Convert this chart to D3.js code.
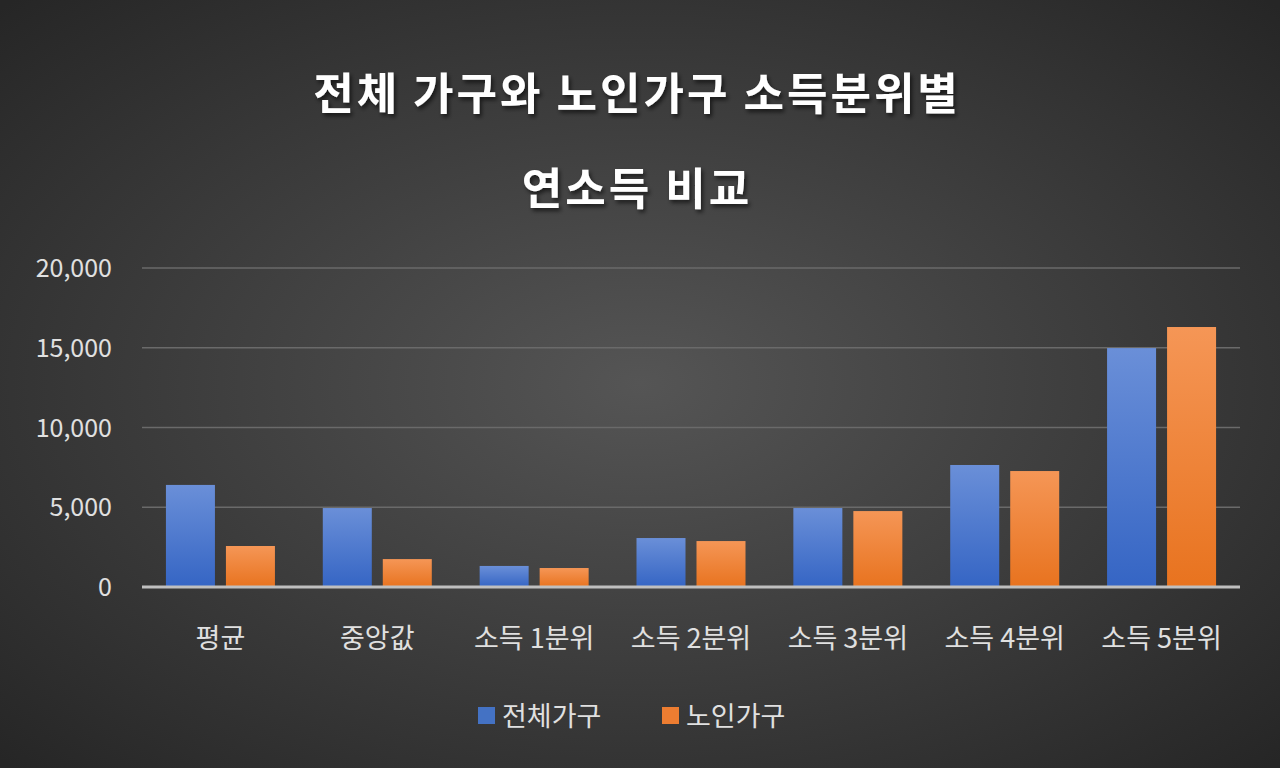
<html>
<head>
<meta charset="UTF-8" />
<script src="https://cdnjs.cloudflare.com/ajax/libs/d3/7.8.5/d3.min.js"></script>
<style>
  body { margin: 0; background: #2a2a2a; }
  svg { display: block; font-family: "Noto Sans CJK KR", "Noto Sans", sans-serif; }
</style>
</head>
<body>
<svg id="chart" width="1280" height="768"></svg>
<script>
const categories = ["평균", "중앙값", "소득 1분위", "소득 2분위", "소득 3분위", "소득 4분위", "소득 5분위"];
const allHouseholds = [6400, 4950, 1320, 3070, 4950, 7650, 14980];
const elderlyHouseholds = [2570, 1750, 1190, 2880, 4760, 7270, 16300];
const seriesNames = ["전체가구", "노인가구"];
const yTicks = [0, 5000, 10000, 15000, 20000];

const svg = d3.select("#chart");
const defs = svg.append("defs");

const bg = defs.append("radialGradient").attr("id", "bg")
  .attr("cx", "50%").attr("cy", "50%").attr("r", "70%");
bg.append("stop").attr("offset", "0%").attr("stop-color", "#555555");
bg.append("stop").attr("offset", "100%").attr("stop-color", "#262626");

function barGrad(id, topColor, bottomColor) {
  const g = defs.append("linearGradient").attr("id", id)
    .attr("x1", 0).attr("y1", 0).attr("x2", 0).attr("y2", 1);
  g.append("stop").attr("offset", "0%").attr("stop-color", topColor);
  g.append("stop").attr("offset", "100%").attr("stop-color", bottomColor);
}
barGrad("blue", "#6a8fd8", "#3565c4");
barGrad("orange", "#f59656", "#e8731f");
const fills = ["url(#blue)", "url(#orange)"];
const legendFills = ["#4472c4", "#ed7d31"];

const shadow = defs.append("filter").attr("id", "shadow");
shadow.append("feDropShadow").attr("dx", 2).attr("dy", 3).attr("stdDeviation", 2)
  .attr("flood-color", "#000").attr("flood-opacity", 0.6);

svg.append("rect").attr("width", 1280).attr("height", 768).attr("fill", "url(#bg)");

// title
const title = svg.append("g").attr("filter", "url(#shadow)")
  .attr("fill", "#fff").attr("font-weight", "bold").attr("font-size", 44)
  .attr("text-anchor", "middle").attr("letter-spacing", 3);
title.append("text").attr("x", 637).attr("y", 110).text("전체 가구와 노인가구 소득분위별");
title.append("text").attr("x", 637).attr("y", 205).text("연소득 비교");

const plotL = 142, plotR = 1240, plotT = 268, plotB = 587;
const x = d3.scaleBand().domain(categories).range([plotL, plotR]);
const y = d3.scaleLinear().domain([0, 20000]).range([plotB, plotT]);

svg.append("g").selectAll("line").data(yTicks.slice(1)).join("line")
  .attr("x1", plotL).attr("x2", plotR)
  .attr("y1", d => y(d)).attr("y2", d => y(d))
  .attr("stroke", "#6a6a6a").attr("stroke-width", 1.5);

svg.append("g").selectAll("text").data(yTicks).join("text")
  .attr("x", 112).attr("y", d => y(d) + 9)
  .attr("text-anchor", "end").attr("fill", "#e0e0e0").attr("font-size", 25)
  .text(d => d3.format(",")(d));

const barW = 49, gap = 11;
const data = categories.map((c, i) => ({ c, v: [allHouseholds[i], elderlyHouseholds[i]] }));
const groups = svg.append("g").selectAll("g").data(data).join("g");
[0, 1].forEach(s => {
  groups.append("rect")
    .attr("x", d => x(d.c) + x.bandwidth() / 2 - barW - gap / 2 + s * (barW + gap))
    .attr("width", barW)
    .attr("y", d => y(d.v[s]))
    .attr("height", d => plotB - y(d.v[s]))
    .attr("fill", fills[s]);
});

svg.append("line").attr("x1", plotL).attr("x2", plotR)
  .attr("y1", plotB).attr("y2", plotB)
  .attr("stroke", "#bfbfbf").attr("stroke-width", 3);

svg.append("g").selectAll("text").data(categories).join("text")
  .attr("x", d => x(d) + x.bandwidth() / 2).attr("y", 648)
  .attr("text-anchor", "middle").attr("fill", "#e0e0e0").attr("font-size", 27)
  .text(d => d);

const legend = svg.append("g");
const lx = [478, 662];
seriesNames.forEach((n, i) => {
  legend.append("rect").attr("x", lx[i]).attr("y", 707).attr("width", 17).attr("height", 17)
    .attr("fill", legendFills[i]);
  legend.append("text").attr("x", lx[i] + 24).attr("y", 726)
    .attr("fill", "#e0e0e0").attr("font-size", 27).text(n);
});
</script>
</body>
</html>
